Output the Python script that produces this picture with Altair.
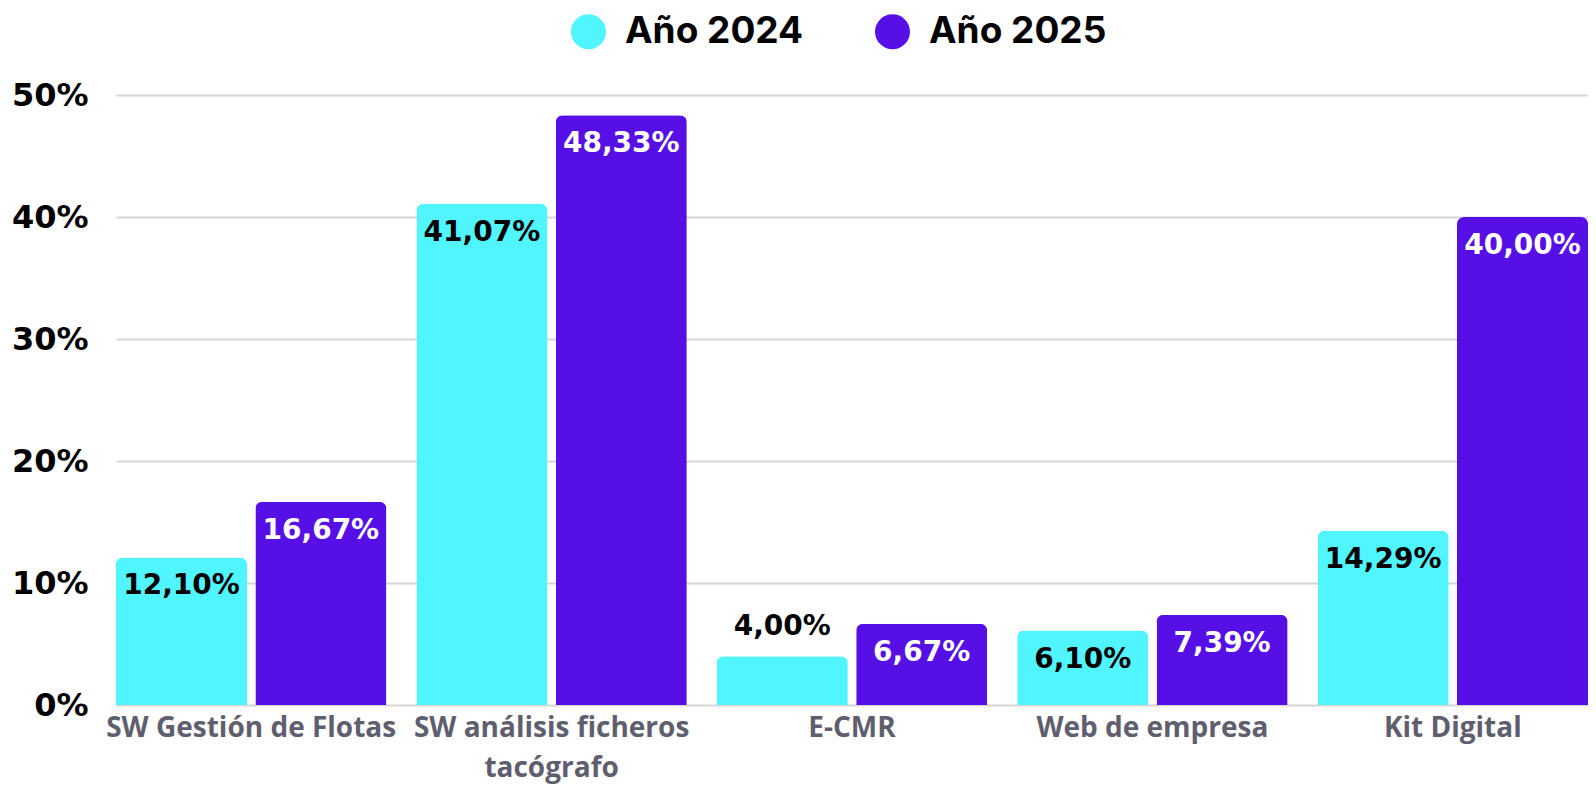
import altair as alt
import pandas as pd

categories = ["SW Gestión de Flotas", "SW análisis ficheros tacógrafo", "E-CMR", "Web de empresa", "Kit Digital"]
years = ["Año 2024", "Año 2025"]
values_2024 = [12.10, 41.07, 4.00, 6.10, 14.29]
values_2025 = [16.67, 48.33, 6.67, 7.39, 40.00]
y_ticks = [0, 10, 20, 30, 40, 50]
colors = ["#50F5FF", "#5610E6"]

rows = []
for cat, a, b in zip(categories, values_2024, values_2025):
    for yr, v in ((years[0], a), (years[1], b)):
        rows.append({"categoria": cat, "anio": yr, "valor": v,
                     "etiqueta": f"{v:.2f}".replace(".", ",") + "%"})
df = pd.DataFrame(rows)

x_enc = alt.X("categoria:N", sort=categories,
              scale=alt.Scale(paddingInner=0.1, paddingOuter=0),
              axis=alt.Axis(title=None, labelAngle=0, labelFont="Open Sans", labelFontSize=28,
                            labelFontWeight="bold", labelColor="#5f5e6e", labelPadding=9,
                            labelLineHeight=40, labelLimit=400, labelOverlap=False,
                            labelBound=False, ticks=False, domain=False,
                            labelExpr="datum.label == 'SW análisis ficheros tacógrafo' ? ['SW análisis ficheros', 'tacógrafo'] : datum.label"))
xo_enc = alt.XOffset("anio:N", sort=years, scale=alt.Scale(paddingInner=0.06, paddingOuter=0))
y_enc = alt.Y("valor:Q", scale=alt.Scale(domain=[0, 50], nice=False),
              axis=alt.Axis(title=None, values=y_ticks, labelExpr="datum.value + '%'",
                            labelFont="DejaVu Sans", labelFontSize=32, labelFontWeight="bold",
                            labelColor="#000000", labelPadding=28, ticks=False, domain=False,
                            gridColor="#d6d6d6", gridWidth=2))

bars = alt.Chart(df).mark_bar(cornerRadiusTopLeft=7, cornerRadiusTopRight=7).encode(
    x=x_enc, xOffset=xo_enc, y=y_enc,
    color=alt.Color("anio:N", sort=years, scale=alt.Scale(domain=years, range=colors),
                    legend=alt.Legend(title=None, orient="none", legendX=454, legendY=-82,
                                      direction="horizontal", symbolType="circle",
                                      symbolSize=1225, symbolStrokeWidth=0, padding=0,
                                      labelFont="Inter", labelFontSize=37, labelFontWeight="bold",
                                      labelColor="#000000", labelOffset=18, columnPadding=70,
                                      labelLimit=400)),
)

text_inside = alt.Chart(df).transform_filter(alt.datum.valor >= 5).mark_text(
    font="DejaVu Sans", fontSize=28, fontWeight="bold", dy=29, baseline="middle"
).encode(
    x=x_enc, xOffset=xo_enc, y=y_enc, text="etiqueta:N",
    color=alt.condition(alt.datum.anio == "Año 2025", alt.value("#ffffff"), alt.value("#000000")),
)

text_outside = alt.Chart(df).transform_filter(alt.datum.valor < 5).mark_text(
    font="DejaVu Sans", fontSize=28, fontWeight="bold", dy=-29, baseline="middle", color="#000000"
).encode(
    x=x_enc, xOffset=xo_enc, y=y_enc, text="etiqueta:N",
)

chart = alt.layer(bars, text_inside, text_outside).properties(
    width=1472, height=610,
    autosize=alt.AutoSizeParams(type="none"),
    padding={"left": 108, "top": 87, "right": 0, "bottom": 80},
).configure_view(stroke=None)

chart.save("out.html", embed_options={"renderer": "svg", "actions": False})
